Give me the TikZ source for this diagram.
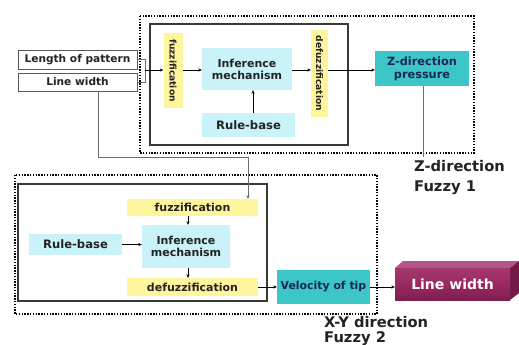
\documentclass[tikz,border=0pt]{standalone}
\usepackage{fontspec}
\setmainfont{DejaVu Sans}
\usetikzlibrary{arrows.meta}
\definecolor{cyanlite}{HTML}{C9F3F8}
\definecolor{yellite}{HTML}{FFF59C}
\definecolor{tealbox}{HTML}{3CC6C8}
\definecolor{navytxt}{HTML}{1B2650}
\definecolor{inktxt}{HTML}{232323}
\definecolor{plumfront}{HTML}{9A2861}
\definecolor{plumtop}{HTML}{B5548A}
\definecolor{plumside}{HTML}{741A47}
\newcommand{\fsz}[2]{\bfseries\fontsize{#1}{#2}\selectfont}
\tikzset{
  every node/.style={font=\bfseries, text=inktxt, inner sep=0pt},
  inbox/.style={draw=gray!70!black, line width=0.7pt, fill=white},
  cyanbox/.style={fill=cyanlite},
  yelbox/.style={fill=yellite},
  tealnode/.style={fill=tealbox, text=navytxt},
  dotbox/.style={draw=black, line width=1.5pt, dash pattern=on 1.4pt off 1.4pt},
  solidbox/.style={draw=gray!45!black, line width=1.6pt},
  flow/.style={draw=black, line width=0.5pt, -{Stealth[length=3.5pt,width=3.2pt]}},
  feed/.style={draw=gray!85!black, line width=0.7pt},
  feedarrow/.style={feed, -{Stealth[length=3.5pt,width=3.2pt,fill=black]}},
}
\begin{document}
\begin{tikzpicture}[x=1pt, y=-1pt]
\useasboundingbox (0,0) rectangle (519,345);
\fill[white] (0,0) rectangle (519,345);

% ---- Fuzzy 1 (Z-direction) ----
\draw[dotbox] (140,16) rectangle (474,153);
\draw[solidbox] (150,24) rectangle (348,145);

\node[inbox, minimum width=119pt, minimum height=19pt, font=\fsz{10.6}{12}] (lop) at (77.5,59.5) {Length of pattern};
\node[inbox, minimum width=119pt, minimum height=18pt, font=\fsz{10.6}{12}] (lw) at (77.5,82) {Line width};

\node[yelbox, rotate=-90, minimum width=75pt, minimum height=19pt, font=\fsz{9.1}{10}] (fz1) at (173,70.5) {fuzzification};
\node[cyanbox, minimum width=90pt, minimum height=42pt, align=center, font=\fsz{11}{12}] (inf1) at (247,69) {Inference\\mechanism};
\node[cyanbox, minimum width=93pt, minimum height=24pt, font=\fsz{11.6}{13}] (rb1) at (248.5,125) {Rule-base};
\node[yelbox, rotate=-90, minimum width=87pt, minimum height=17pt, font=\fsz{9.1}{10}] (dfz1) at (319.5,73.5) {defuzzification};
\node[tealnode, minimum width=94pt, minimum height=35pt, align=center, font=\fsz{11.3}{13}] (zp) at (422,68.5) {Z-direction\\pressure};

\coordinate (jn) at (145,70);
\coordinate (zend) at (423,157);
\draw[feed] (lop.east) -- (lop.east -| jn) -- (lw.east -| jn) -- (lw.east);
\draw[flow] (jn) -- (fz1.south |- jn);
\draw[flow] (fz1.north |- jn) -- (inf1.west |- jn);
\draw[flow] (rb1.north -| 253,0) -- (inf1.south -| 253,0);
\draw[flow] (inf1.east |- jn) -- (dfz1.south |- jn);
\draw[flow] (dfz1.north |- jn) -- (zp.west |- jn);
\draw[feed] (zp.south -| zend) -- (zend);

\node[anchor=west, align=left, font=\fsz{14.7}{20}] (lab1) at (414,178) {Z-direction\\Fuzzy 1};

% ---- Fuzzy 2 (X-Y direction) ----
\draw[dotbox] (15,175) rectangle (377,314);
\draw[solidbox] (18,184) rectangle (267,301);

\node[yelbox, minimum width=131pt, minimum height=17pt, font=\fsz{11}{12}] (fz2) at (192.5,207.5) {fuzzification};
\node[cyanbox, minimum width=88pt, minimum height=43pt, align=center, font=\fsz{11}{12}] (inf2) at (186,246.5) {Inference\\mechanism};
\node[cyanbox, minimum width=93pt, minimum height=21pt, font=\fsz{11.6}{13}] (rb2) at (75.5,244.5) {Rule-base};
\node[yelbox, minimum width=131pt, minimum height=18pt, font=\fsz{11}{12}] (dfz2) at (192.5,287) {defuzzification};
\node[tealnode, minimum width=93pt, minimum height=34pt, font=\fsz{10.9}{12}] (vt) at (323.5,287) {Velocity of tip};

% 3D output block: top and side faces, then the shaded front face
\fill[plumtop] (395,268) -- (403,261) -- (519,261) -- (510,268) -- cycle;
\fill[plumside] (510,268) -- (519,261) -- (519,293) -- (510,300) -- cycle;
\node[top color=plumfront!92!white, bottom color=plumfront!80!black, middle color=plumfront,
      minimum width=115pt, minimum height=32pt, text=white, font=\fsz{14}{16}] (lw3) at (452.5,284) {Line width};

\coordinate (bend1) at (98,157);
\coordinate (bend2) at (248,157);
\draw[feed] (lw.south -| bend1) -- (bend1) -- (bend2);
\draw[feedarrow] (bend2) -- (fz2.north -| bend2);
\draw[flow] (fz2.south -| 188,0) -- (inf2.north -| 188,0);
\draw[flow] (rb2.east) -- (inf2.west |- rb2.east);
\draw[flow] (inf2.south -| 188,0) -- (dfz2.north -| 188,0);
\draw[flow] (dfz2.east) -- (vt.west);
\draw[flow] (vt.east) -- (lw3.west |- vt.east);

\node[anchor=west, align=left, font=\fsz{14.7}{15}] (lab2) at (324,330.5) {X-Y direction\\Fuzzy 2};
\end{tikzpicture}
\end{document}
